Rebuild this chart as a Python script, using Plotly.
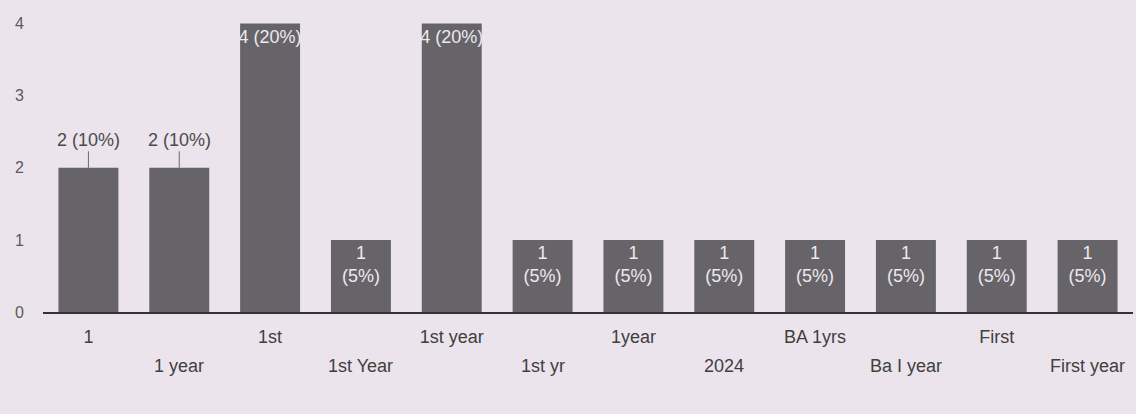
import plotly.graph_objects as go

categories = ["1", "1 year", "1st", "1st Year", "1st year", "1st yr", "1year",
              "2024", "BA 1yrs", "Ba I year", "First", "First year"]
counts = [2, 2, 4, 1, 4, 1, 1, 1, 1, 1, 1, 1]
percents = [10, 10, 20, 5, 20, 5, 5, 5, 5, 5, 5, 5]
y_ticks = [0, 1, 2, 3, 4]

idx = list(range(len(categories)))
FONT = "Liberation Sans"

# first row of staggered labels as tick labels, second row as annotations
tick_text = [c if i % 2 == 0 else "" for i, c in enumerate(categories)]

inside_text = []
for c, p in zip(counts, percents):
    if c >= 4:
        inside_text.append(f"{c} ({p}%)")
    elif c == 1:
        inside_text.append(f"{c}<br>({p}%)")
    else:
        inside_text.append("")

fig = go.Figure()
fig.add_trace(go.Bar(
    x=idx, y=counts,
    marker=dict(color="#666468", line=dict(width=0)),
    text=inside_text, textposition="inside", insidetextanchor="end",
    textangle=0, constraintext="none",
    textfont=dict(color="#eee8ef", size=18, family=FONT),
    cliponaxis=False,
))

for i, (c, p) in enumerate(zip(counts, percents)):
    if c == 2:
        fig.add_annotation(x=i, y=c, text=f"{c} ({p}%)", showarrow=True,
                           arrowhead=0, arrowwidth=1, arrowcolor="#6a6a6a",
                           ax=0, ay=-28,
                           font=dict(size=18, color="#4a4a4a", family=FONT))

for i, c in enumerate(categories):
    if i % 2 == 1:
        fig.add_annotation(x=i, y=0, yref="y", text=c, showarrow=False,
                           yanchor="middle", yshift=-54,
                           font=dict(size=18, color="#3f3f3f", family=FONT))

fig.update_layout(
    width=1136, height=414,
    margin=dict(l=43, r=3, t=20, b=102),
    paper_bgcolor="#ebe4ec", plot_bgcolor="#ebe4ec",
    bargap=0.34,
    showlegend=False,
    font=dict(family=FONT, color="#4a4a4a", size=18),
)
fig.update_xaxes(
    tickmode="array", tickvals=idx, ticktext=tick_text, tickangle=0,
    showgrid=False, showline=True, linecolor="#333333", linewidth=1.5,
    zeroline=False, ticks="", range=[-0.5, len(categories) - 0.5],
    ticklabelstandoff=8,
    tickfont=dict(size=18, color="#3f3f3f"),
)
fig.update_yaxes(
    range=[0, 4.05], tickvals=y_ticks, showgrid=False, zeroline=False,
    showline=False, ticks="", ticklabelstandoff=18,
    tickfont=dict(size=16, color="#5a5a5a"),
)

fig.write_html("out.html", config={"displayModeBar": False},
               post_script="document.body.style.margin='0';")
